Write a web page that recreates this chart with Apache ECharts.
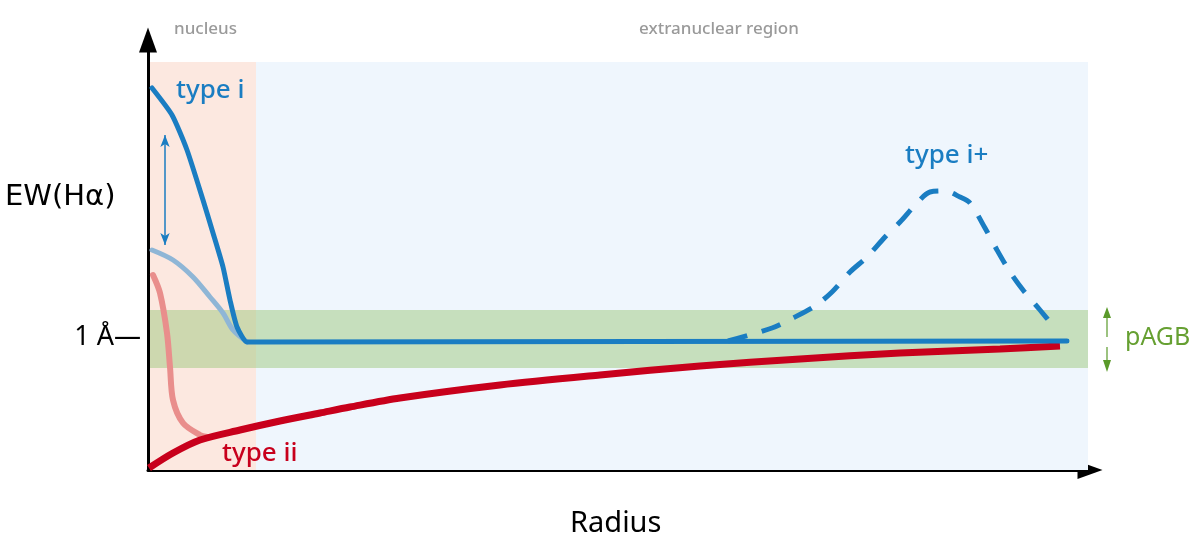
<!DOCTYPE html>
<html><head><meta charset="utf-8">
<script src="https://cdn.jsdelivr.net/npm/echarts@6/dist/echarts.min.js"></script>
<style>html,body{margin:0;padding:0;background:#fff}#c{width:1200px;height:554px}</style>
</head><body><div id="c"></div>
<script>
// data units: x = radius (schematic), y = EW(Halpha) (schematic)
const typeI      = [[4,382],[24,355],[39,320],[55,270],[65,237],[75,203],[82,170],[89,143],[99,128],[109,128],[919,129]];
const typeIFaded = [[4,220],[25,210],[45,193],[62,173],[75,157],[85,140],[99,128]];
const typeIPlus  = [[580,129],[624,142],[645,152],[667,164],[684,178],[702,198],[719,213],[737,233],[752,248],[769,267],[782,278],[797,279],[812,273],[822,267],[837,242],[849,220],[862,198],[875,180],[892,160],[907,142]];
const typeIIFaded= [[5,195],[12,177],[19,137],[22,103],[25,70],[35,47],[52,35],[59,33]];
const typeII     = [[1,2],[25,17],[52,30],[92,40],[132,49],[172,57],[202,63],[252,72],[352,85],[452,95],[552,104],[652,111],[752,117],[852,121],[912,124]];
const nucleusRange = [2,108];
const extraRange   = [108,940];
const regionTop    = 408;
const pagbBand     = [102,160];
const oneAngstrom  = 133;
const spreadArrow  = [[17,335],[17,225]];

const BLUE='#1a7dc2', RED='#c8001c', FONT='"Noto Sans", sans-serif';

const chart = echarts.init(document.getElementById('c'));
chart.setOption({
  animation:false,
  grid:{left:148,right:110,top:40,bottom:84},
  xAxis:{type:'value',min:0,max:942,
    axisLine:{show:true,symbol:['none','triangle'],symbolSize:[18,25],lineStyle:{color:'#000',width:3}},
    axisTick:{show:false},axisLabel:{show:false},splitLine:{show:false}},
  yAxis:{type:'value',min:0,max:430,
    axisLine:{show:true,symbol:['none','triangle'],symbolSize:[18,25],lineStyle:{color:'#000',width:3}},
    axisTick:{show:false},splitLine:{show:false},
    axisLabel:{show:true,customValues:[oneAngstrom],formatter:()=> '1 Å—',margin:7,color:'#000',fontSize:27,fontFamily:FONT}},
  series:[
    {type:'line',data:[],z:0,markArea:{silent:true,data:[
      [{coord:[nucleusRange[0],0],itemStyle:{color:'#fce8e0'}},{coord:[nucleusRange[1],regionTop]}],
      [{coord:[extraRange[0],0],itemStyle:{color:'#eff6fd'}},{coord:[extraRange[1],regionTop]}]
    ]}},
    {type:'line',data:typeIFaded,z:1,smooth:0.3,symbol:'none',lineStyle:{color:'#8fb6d6',width:5,cap:'round'}},
    {type:'line',data:typeIIFaded,z:1,smooth:0.3,symbol:'none',lineStyle:{color:'#e98e8c',width:6,cap:'round'}},
    {type:'line',data:[],z:2,markArea:{silent:true,data:[
      [{coord:[nucleusRange[0],pagbBand[0]],itemStyle:{color:'rgba(158,200,125,0.5)'}},{coord:[extraRange[1],pagbBand[1]]}]
    ]}},
    {type:'line',data:typeII,z:3,smooth:0.3,symbol:'none',lineStyle:{color:RED,width:7,cap:'butt'}},
    {type:'line',data:typeIPlus,z:3,smooth:0.3,symbol:'none',lineStyle:{color:BLUE,width:5,type:[20,15],cap:'butt'}},
    {type:'line',data:typeI,z:4,smooth:0.2,symbol:'none',lineStyle:{color:BLUE,width:5,cap:'round'},
      markLine:{silent:true,symbol:['arrow','arrow'],symbolSize:[7,12],label:{show:false},
        lineStyle:{color:BLUE,width:1.5,type:'solid'},
        data:[[{coord:spreadArrow[0]},{coord:spreadArrow[1]}]]}}
  ],
  graphic:[
    {type:'text',z:100,left:174,top:21,style:{text:'nucleus',fill:'#9a9a9a',font:'500 17px '+FONT}},
    {type:'text',z:100,left:639,top:21,style:{text:'extranuclear region',fill:'#9a9a9a',font:'500 17px '+FONT}},
    {type:'text',z:100,left:176,top:78,style:{text:'type i',fill:BLUE,font:'500 26px '+FONT}},
    {type:'text',z:100,left:905,top:143,style:{text:'type i+',fill:BLUE,font:'500 26px '+FONT}},
    {type:'text',z:100,left:222,top:441,style:{text:'type ii',fill:RED,font:'500 26px '+FONT}},
    {type:'text',z:100,left:1125,top:325,style:{text:'pAGB',fill:'#66a032',font:'25px '+FONT}},
    {type:'text',z:100,left:5,top:183,style:{text:'EW(Hα)',fill:'#000',font:'29px "DejaVu Sans", sans-serif'}},
    {type:'text',z:100,left:570,top:509,style:{text:'Radius',fill:'#000',font:'29px '+FONT}},
    {type:'line',z:100,shape:{x1:1107,y1:316,x2:1107,y2:337},style:{stroke:'#5a9a2a',lineWidth:1.2}},
    {type:'polygon',z:100,shape:{points:[[1107,307],[1103,318],[1111,318]]},style:{fill:'#5a9a2a'}},
    {type:'line',z:100,shape:{x1:1107,y1:347,x2:1107,y2:362},style:{stroke:'#5a9a2a',lineWidth:1.2}},
    {type:'polygon',z:100,shape:{points:[[1107,372],[1103,360],[1111,360]]},style:{fill:'#5a9a2a'}}
  ]
});
</script></body></html>
